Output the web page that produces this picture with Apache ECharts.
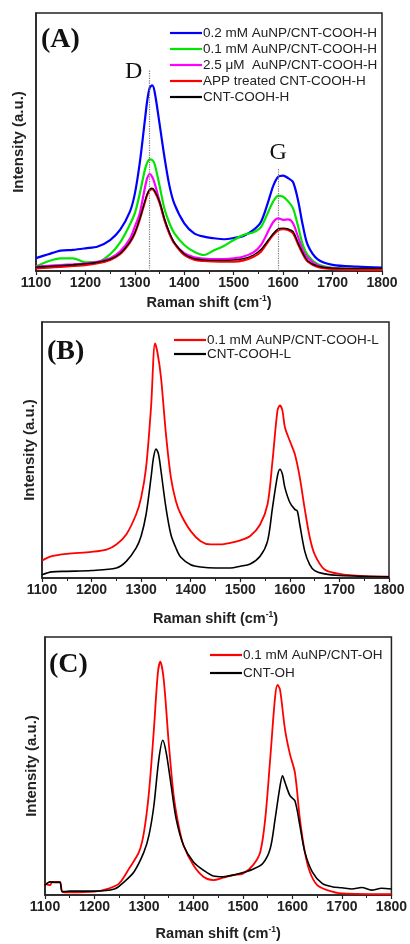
<!DOCTYPE html>
<html><head><meta charset="utf-8">
<script src="https://cdn.jsdelivr.net/npm/echarts/dist/echarts.min.js"></script>
<style>html,body{margin:0;padding:0;background:#fff}#c{width:410px;height:944px}</style>
</head><body><div id="c"></div><script>
// ---------- Panel A ----------
const aX =        [1100,1125,1150,1175,1200,1225,1250,1270,1290,1300,1310,1320,1325,1330,1335,1340,1350,1360,1370,1380,1400,1420,1440,1460,1480,1500,1520,1540,1555,1570,1580,1590,1600,1610,1620,1630,1640,1650,1670,1700,1750,1800];
const aBlue =     [5.0,6.5,7.9,8.2,8.8,9.5,12,15.9,23,30,42,58,66,71,72,69.5,57,44,33,26,18.5,14.6,13.3,12.7,12.3,12.8,13.6,15.9,19,27,33,36.5,37,36,34.5,27.5,17.5,10,4.5,2.4,1.7,1.3];
const aGreen =    [1.7,3.8,4.9,4.9,3.4,3.5,6.5,11,18,22.4,30,39,42,43.3,43,41.5,33,24,18.5,14.6,10.1,7.5,6.2,8,9.7,12,14,15,17,23,27,29.1,28.8,27,24.3,17.5,10,6,2.6,1.2,0.8,0.7];
const aMagenta =  [1.7,2.0,2.3,2.6,3.0,3.6,4.9,7.5,12.5,17.2,22.4,32,36,37.6,36.5,34,27,19.8,14.5,10.7,6.9,5.3,4.8,4.6,4.6,4.9,5.6,7.2,10,15.5,19,20.4,19.8,20,18.5,13.3,8,5,2.2,1.0,0.8,0.7];
const aRed =      [1.0,1.3,1.6,2.0,2.3,3.0,4.3,6.5,11,14.6,20,26.5,29.5,31.3,31.7,30.8,26.5,19.8,14.5,10.7,6.2,4.4,3.9,3.7,3.6,3.6,4.1,5.5,7.5,11.5,14,15.8,16.2,15.9,14.6,10.5,6.5,3.6,1.6,0.8,0.5,0.4];
const aBlack =    [1.5,1.8,2.1,2.4,2.8,3.4,4.6,6.8,11.3,14.9,20.3,26.8,29.8,31.7,32.1,31.1,26.8,20.1,14.8,11,6.6,4.8,4.3,4.1,4.1,4.3,4.8,6.2,8.3,12,14.5,16.3,16.6,16.3,15.3,11,6.9,3.9,1.9,1.1,1.0,1.0];
const aNames = ['0.2 mM AuNP/CNT-COOH-H','0.1 mM AuNP/CNT-COOH-H','2.5 \u03bcM  AuNP/CNT-COOH-H','APP treated CNT-COOH-H','CNT-COOH-H'];

// ---------- Panel B ----------
const bRedX =  [1100,1120,1150,1200,1230,1250,1270,1290,1300,1310,1320,1328,1333,1340,1350,1360,1370,1380,1400,1420,1440,1460,1480,1500,1520,1540,1555,1565,1575,1580,1585,1590,1600,1610,1620,1630,1640,1650,1670,1700,1750,1800];
const bRedY =  [6.8,8.5,9.4,10.2,11.1,13.1,17,24.9,31.4,43.2,66.8,91.6,88,78.5,56.3,39.3,30.1,24.9,18.3,14.4,13.1,13.1,13.7,14.7,16.4,20.9,28.8,45.8,65.4,67.4,65.4,58.9,53.5,48.4,39.3,27,16,9.2,3.3,1.6,0.7,0.5];
const bBlackX = [1100,1120,1150,1200,1250,1270,1290,1300,1310,1320,1325,1330,1335,1340,1350,1360,1370,1380,1400,1420,1450,1480,1500,1520,1540,1555,1565,1575,1580,1585,1590,1600,1610,1615,1620,1630,1640,1650,1670,1700,1800];
const bBlackY = [1.3,2.4,2.6,2.9,3.9,6.5,11.8,16.4,24.9,39.3,47.1,50.4,48.4,41.9,27.5,17,11.8,8.1,5.2,4.3,3.9,3.9,4.6,5.5,8.5,14.4,27.5,39.9,42.5,40.5,35.3,29.5,26.8,26.2,20.9,10.5,5.2,2.9,1.6,1.0,0.5];
const bNames = ['0.1 mM AuNP/CNT-COOH-L','CNT-COOH-L'];

// ---------- Panel C ----------
const cRedX =  [1100,1110,1115,1130,1135,1150,1200,1230,1250,1270,1290,1300,1310,1320,1328,1333,1340,1350,1360,1370,1380,1400,1420,1440,1460,1480,1500,1520,1535,1545,1555,1565,1570,1575,1585,1595,1605,1615,1625,1635,1650,1670,1700,1800];
const cRedY =  [4.5,3.8,5.1,5.1,1.3,1.0,1.3,2.6,4.5,10.3,16.7,24.4,39.7,64.1,86,90.4,83.3,59,38.5,26.9,19.2,11.5,7.1,5.8,6.7,7.7,8.3,11.5,16.7,29.5,52.6,76.9,81.4,79.5,64.1,54.5,47.4,29.5,16.7,9,3.8,1.9,0.6,0.3];
const cBlackX = [1100,1110,1120,1130,1135,1150,1200,1240,1260,1280,1300,1310,1320,1330,1338,1345,1355,1365,1380,1400,1420,1440,1460,1480,1500,1520,1540,1555,1565,1575,1580,1585,1595,1605,1615,1625,1640,1660,1680,1700,1720,1740,1760,1780,1800];
const cBlackY = [3.8,5.1,4.9,4.9,1.3,1.5,1.5,2.3,5.1,9,16.7,23.1,34.6,52.6,60,55.1,42.3,29.5,19.2,12.8,9.6,7.4,7.1,7.7,8.7,10,12.2,17.9,29.5,42.3,46.2,43.6,38.5,36.5,26.9,16.7,9,4.5,3.2,2.8,2.3,2.9,1.9,2.6,2.3];
const cNames = ['0.1 mM AuNP/CNT-OH','CNT-OH'];

const xTicks = [1100,1200,1300,1400,1500,1600,1700,1800];
const dPos = 1330, gPos = 1590;

const zip = (xs, ys) => xs.map((x, i) => [x, ys[i]]);
const SANS = '"Liberation Sans", Arial, sans-serif';
const SERIF = '"Liberation Serif", "Times New Roman", serif';

const grids = [
  {left: 36, top: 13, width: 346, height: 258},
  {left: 42, top: 322, width: 347, height: 256},
  {left: 45, top: 637, width: 348, height: 258}
];
const xGaps = [23, 32, 30];
const yGaps = [10, 5, 6];

function xAxisFor(i) {
  return {
    gridIndex: i, type: 'value', min: xTicks[0], max: xTicks[xTicks.length - 1], interval: 100,
    axisLine: {show: true, onZero: false, lineStyle: {color: '#222', width: 1.5}},
    axisTick: {show: true, inside: false, length: 4, lineStyle: {color: '#222', width: 1.2}},
    minorTick: {show: true, splitNumber: 2, length: 3, lineStyle: {color: '#222', width: 1}},
    splitLine: {show: false},
    axisLabel: {color: '#222', fontSize: 14, fontWeight: 'bold', fontFamily: SANS, margin: 5, formatter: v => String(v)},
    name: '{t|Raman shift (cm}{s|-1}{t|)}',
    nameLocation: 'middle', nameGap: xGaps[i],
    nameTextStyle: {
      rich: {
        t: {fontSize: 14.5, fontWeight: 'bold', fontFamily: SANS, color: '#222', lineHeight: 17},
        s: {fontSize: 8.5, fontWeight: 'bold', fontFamily: SANS, color: '#222', verticalAlign: 'top', lineHeight: 17, padding: [0, 0, 8, 0]}
      }
    }
  };
}
function yAxisFor(i) {
  return {
    gridIndex: i, type: 'value', min: 0, max: 100,
    axisLine: {show: true, lineStyle: {color: '#222', width: 1.5}},
    axisTick: {show: false}, axisLabel: {show: false}, splitLine: {show: false},
    name: 'Intensity (a.u.)', nameLocation: 'middle', nameGap: yGaps[i], nameRotate: 90,
    nameTextStyle: {fontSize: 15, fontWeight: 'bold', fontFamily: SANS, color: '#222'}
  };
}
function line(name, data, color, idx, w) {
  return {
    name, type: 'line', xAxisIndex: idx, yAxisIndex: idx, data,
    showSymbol: false, symbol: 'none', smooth: 0.3,
    lineStyle: {color, width: w}, itemStyle: {color}, z: 2
  };
}
function legendFor(names, left, top, gap) {
  return {
    data: names, orient: 'vertical', left, top, itemGap: gap, padding: 0,
    icon: 'rect', itemWidth: 32, itemHeight: 2.2,
    textStyle: {fontSize: 13.5, fontFamily: SANS, color: '#222', padding: [0, 0, 0, -4]},
    selectedMode: false
  };
}

const aColors = ['#0000ff', '#00e600', '#ff00ff', '#ff0000', '#000000'];
const aData = [aBlue, aGreen, aMagenta, aRed, aBlack];
const series = aData.map((ys, k) => line(aNames[k], zip(aX, ys), aColors[k], 0, k === 4 ? 1.4 : 2.2));
series[0].markLine = {
  silent: true, symbol: 'none', label: {show: false},
  lineStyle: {color: '#777', type: 'dotted', width: 1.2},
  data: [
    [{coord: [dPos, 0]}, {coord: [dPos, 78]}],
    [{coord: [gPos, 0]}, {coord: [gPos, 40]}]
  ]
};
series.push(line(bNames[0], zip(bRedX, bRedY), '#ff0000', 1, 1.8));
series.push(line(bNames[1], zip(bBlackX, bBlackY), '#000000', 1, 1.6));
series.push(line(cNames[0], zip(cRedX, cRedY), '#ff0000', 2, 1.8));
series.push(line(cNames[1], zip(cBlackX, cBlackY), '#000000', 2, 1.6));

const chart = echarts.init(document.getElementById('c'), null, {renderer: 'canvas'});
chart.setOption({
  backgroundColor: '#fff',
  animation: false,
  grid: grids.map(g => Object.assign({show: true, borderColor: '#222', borderWidth: 1.5, backgroundColor: 'transparent'}, g)),
  xAxis: [0, 1, 2].map(xAxisFor),
  yAxis: [0, 1, 2].map(yAxisFor),
  legend: [
    legendFor(aNames, 170, 26, 2),
    legendFor(bNames, 174, 333, 0),
    legendFor(cNames, 210, 648, 4)
  ],
  series
});

const pD = chart.convertToPixel({xAxisIndex: 0, yAxisIndex: 0}, [dPos, 78]);
const pG = chart.convertToPixel({xAxisIndex: 0, yAxisIndex: 0}, [gPos, 40]);
const bigStyle = (t) => ({text: t, fontSize: 28, fontWeight: 'bold', fontFamily: SERIF, fill: '#111', textVerticalAlign: 'middle'});
chart.setOption({
  graphic: [
    {type: 'text', left: 41, top: 26, style: bigStyle('(A)')},
    {type: 'text', left: 47, top: 338, style: bigStyle('(B)')},
    {type: 'text', left: 49, top: 651, style: bigStyle('(C)')},
    {type: 'text', x: pD[0] - 16, y: pD[1] + 2, style: {text: 'D', fontSize: 24, fontFamily: SERIF, fill: '#111', textAlign: 'center', textVerticalAlign: 'middle'}},
    {type: 'text', x: pG[0], y: pG[1] - 15, style: {text: 'G', fontSize: 24, fontFamily: SERIF, fill: '#111', textAlign: 'center', textVerticalAlign: 'middle'}}
  ]
});
</script></body></html>
